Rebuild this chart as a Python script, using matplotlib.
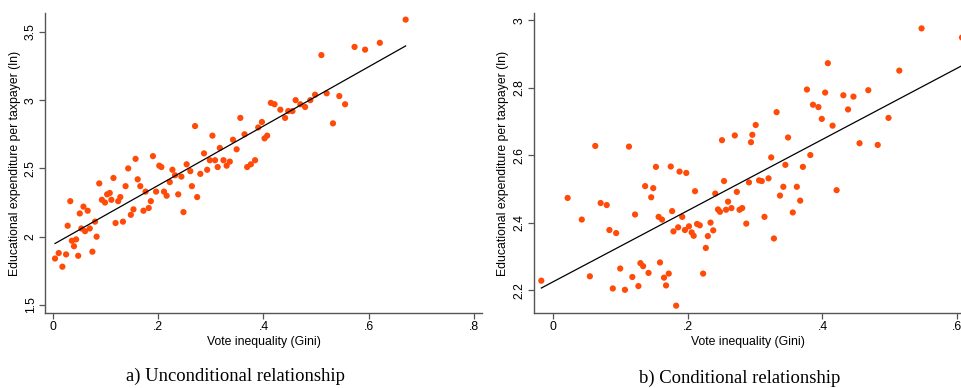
import matplotlib.pyplot as plt
import numpy as np

# a) unconditional: vote inequality (Gini) vs log educational expenditure
gini_a = [0.004, 0.011, 0.018, 0.025, 0.028, 0.033, 0.036, 0.040, 0.044, 0.048,
          0.051, 0.054, 0.058, 0.061, 0.066, 0.070, 0.075, 0.080, 0.083, 0.088,
          0.093, 0.099, 0.103, 0.108, 0.111, 0.115, 0.119, 0.124, 0.128, 0.133,
          0.138, 0.143, 0.148, 0.153, 0.157, 0.161, 0.166, 0.172, 0.176, 0.182,
          0.186, 0.190, 0.196, 0.202, 0.206, 0.211, 0.216, 0.222, 0.227, 0.232,
          0.238, 0.244, 0.248, 0.254, 0.261, 0.264, 0.270, 0.274, 0.280, 0.287,
          0.293, 0.298, 0.303, 0.308, 0.313, 0.317, 0.324, 0.330, 0.336, 0.342,
          0.349, 0.356, 0.364, 0.369, 0.376, 0.384, 0.390, 0.397, 0.402, 0.407,
          0.414, 0.421, 0.432, 0.441, 0.447, 0.455, 0.461, 0.470, 0.479, 0.489,
          0.498, 0.510, 0.520, 0.532, 0.544, 0.555, 0.573, 0.593, 0.621, 0.670]
spend_a = [1.84, 1.88, 1.78, 1.87, 2.08, 2.26, 1.97, 1.93, 1.98, 1.86,
           2.17, 2.06, 2.22, 2.04, 2.19, 2.06, 1.89, 2.11, 2.00, 2.39,
           2.27, 2.25, 2.31, 2.32, 2.27, 2.43, 2.10, 2.26, 2.29, 2.11,
           2.37, 2.50, 2.16, 2.20, 2.57, 2.42, 2.37, 2.19, 2.33, 2.21,
           2.26, 2.59, 2.33, 2.52, 2.51, 2.33, 2.30, 2.40, 2.49, 2.45,
           2.31, 2.44, 2.18, 2.53, 2.48, 2.37, 2.81, 2.29, 2.46, 2.61,
           2.49, 2.56, 2.74, 2.56, 2.51, 2.65, 2.56, 2.52, 2.55, 2.71,
           2.64, 2.87, 2.75, 2.51, 2.53, 2.56, 2.80, 2.84, 2.72, 2.74,
           2.98, 2.97, 2.93, 2.87, 2.92, 2.92, 3.00, 2.97, 2.95, 3.00,
           3.04, 3.33, 3.05, 2.83, 3.03, 2.97, 3.39, 3.37, 3.42, 3.59]

# b) conditional relationship (residualised)
gini_b = [-0.017, 0.022, 0.043, 0.055, 0.063, 0.071, 0.080, 0.084, 0.089, 0.094,
          0.100, 0.107, 0.113, 0.118, 0.122, 0.127, 0.130, 0.134, 0.137, 0.142,
          0.146, 0.149, 0.153, 0.157, 0.159, 0.162, 0.165, 0.168, 0.172, 0.175,
          0.177, 0.179, 0.183, 0.186, 0.188, 0.192, 0.196, 0.198, 0.202, 0.206,
          0.209, 0.211, 0.214, 0.218, 0.223, 0.227, 0.230, 0.234, 0.238, 0.241,
          0.245, 0.248, 0.251, 0.254, 0.257, 0.260, 0.265, 0.270, 0.273, 0.277,
          0.281, 0.287, 0.291, 0.294, 0.296, 0.301, 0.306, 0.310, 0.314, 0.320,
          0.324, 0.328, 0.332, 0.337, 0.342, 0.345, 0.349, 0.356, 0.362, 0.367,
          0.371, 0.377, 0.382, 0.386, 0.394, 0.399, 0.404, 0.408, 0.415, 0.421,
          0.431, 0.438, 0.446, 0.455, 0.468, 0.482, 0.498, 0.514, 0.547, 0.607]
spend_b = [2.229, 2.474, 2.410, 2.242, 2.628, 2.459, 2.453, 2.379, 2.206, 2.370,
           2.265, 2.202, 2.626, 2.240, 2.425, 2.213, 2.281, 2.272, 2.509, 2.252,
           2.476, 2.503, 2.566, 2.418, 2.283, 2.410, 2.238, 2.215, 2.250, 2.567,
           2.435, 2.375, 2.155, 2.387, 2.552, 2.418, 2.379, 2.548, 2.390, 2.372,
           2.362, 2.494, 2.397, 2.393, 2.250, 2.326, 2.361, 2.401, 2.378, 2.487,
           2.440, 2.433, 2.645, 2.524, 2.439, 2.463, 2.444, 2.659, 2.492, 2.439,
           2.444, 2.398, 2.520, 2.639, 2.661, 2.690, 2.526, 2.524, 2.418, 2.532,
           2.594, 2.354, 2.728, 2.481, 2.507, 2.572, 2.653, 2.431, 2.507, 2.466,
           2.566, 2.795, 2.601, 2.750, 2.743, 2.708, 2.786, 2.873, 2.688, 2.497,
           2.778, 2.736, 2.774, 2.636, 2.793, 2.631, 2.711, 2.851, 2.976, 2.949]

x_ticks_a = [0, 0.2, 0.4, 0.6, 0.8]
x_labels_a = ['0', '.2', '.4', '.6', '.8']
y_ticks_a = [1.5, 2, 2.5, 3, 3.5]
y_labels_a = ['1.5', '2', '2.5', '3', '3.5']
x_ticks_b = [0, 0.2, 0.4, 0.6]
x_labels_b = ['0', '.2', '.4', '.6']
y_ticks_b = [2.2, 2.4, 2.6, 2.8, 3.0]
y_labels_b = ['2.2', '2.4', '2.6', '2.8', '3']

plt.rcParams['font.family'] = ['Liberation Sans', 'DejaVu Sans']

fig = plt.figure(figsize=(9.62, 3.88), dpi=100)
ax1 = fig.add_axes([0.0468, 0.193, 0.4542, 0.773])
ax2 = fig.add_axes([0.555, 0.193, 0.445, 0.773])

dot_color = '#ff4a08'
axis_color = '#555555'


def style_axis(ax, x, y, xlim, ylim, xt, xl, yt, yl):
    ax.scatter(x, y, s=20, color=dot_color, edgecolors='none', zorder=3)
    coef = np.polyfit(x, y, 1)
    xs = np.array([min(x), max(x)])
    ax.plot(xs, np.polyval(coef, xs), color='black', lw=0.9, zorder=4)
    ax.set_xlim(*xlim)
    ax.set_ylim(*ylim)
    ax.set_xticks(xt)
    ax.set_xticklabels(xl)
    ax.set_yticks(yt)
    ax.set_yticklabels(yl, rotation=90, va='center')
    for side in ['top', 'right']:
        ax.spines[side].set_visible(False)
    for side in ['left', 'bottom']:
        ax.spines[side].set_color(axis_color)
        ax.spines[side].set_linewidth(1.0)
    ax.tick_params(colors=axis_color, labelcolor='black', labelsize=8.8,
                   length=4, width=0.9, pad=2)
    ax.set_xlabel('Vote inequality (Gini)', fontsize=8.8, labelpad=2)
    ax.set_ylabel('Educational expenditure per taxpayer (ln)', fontsize=8.8,
                  labelpad=3)


style_axis(ax1, gini_a, spend_a, (-0.015, 0.815), (1.44, 3.637),
           x_ticks_a, x_labels_a, y_ticks_a, y_labels_a)
style_axis(ax2, gini_b, spend_b, (-0.028, 0.607), (2.133, 3.021),
           x_ticks_b, x_labels_b, y_ticks_b, y_labels_b)

fig.text(0.245, 0.030, 'a) Unconditional relationship', ha='center',
         va='center', fontsize=13.4, family='Liberation Serif')
fig.text(0.769, 0.014, 'b) Conditional relationship', ha='center',
         va='baseline', fontsize=13.4, family='Liberation Serif')

fig.savefig('out.png', dpi=100)
